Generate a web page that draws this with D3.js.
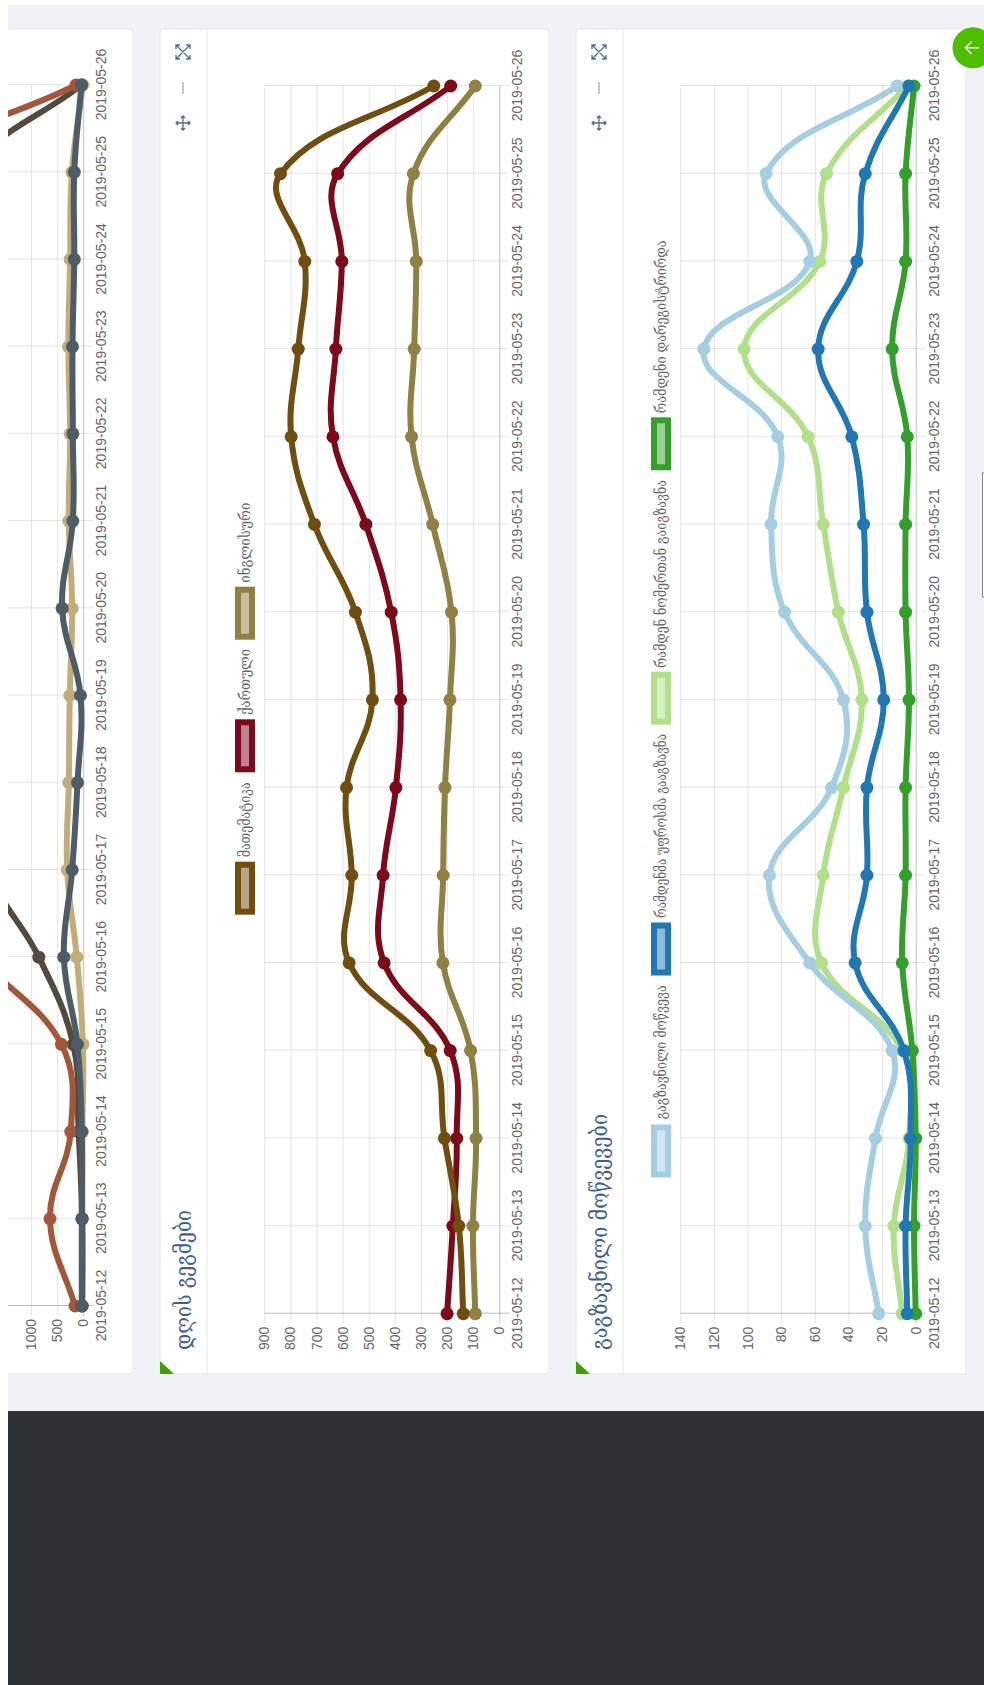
<!DOCTYPE html>
<html>
<head>
<meta charset="utf-8">
<style>
  html, body { margin: 0; padding: 0; background: #fff; overflow: hidden; }
  svg { display: block; }
  .tick text { font-family: "Liberation Sans", Arial, sans-serif; font-size: 14px; }
  .legend-label { font-family: "DejaVu Serif", serif; font-size: 14px; fill: #666; }
  .panel-title { font-family: "DejaVu Serif", serif; font-size: 23px; fill: #3f5d8f; }
</style>
<script src="https://cdnjs.cloudflare.com/ajax/libs/d3/7.8.5/d3.min.js"></script>
</head>
<body>
<div id="chart"></div>
<script>
var dates = ['2019-05-12', '2019-05-13', '2019-05-14', '2019-05-15', '2019-05-16', '2019-05-17', '2019-05-18', '2019-05-19',
  '2019-05-20', '2019-05-21', '2019-05-22', '2019-05-23', '2019-05-24', '2019-05-25', '2019-05-26']

// left panel, cut off by the page edge: the middle of the first two series is out of frame
var rustValues = [157, 636, 239, 417, 1950, 3000, 2900, 2600, 2700, 3300, 3500, 3400, 3300, 3400, 138]
var darkValues = [20, 20, 88, 191, 850, 1800, 1900, 1850, 1900, 1950, 2100, 2050, 2000, 2150, 34]
var tanValues = [15, 15, 15, 5, 123, 307, 276, 257, 211, 276, 250, 283, 250, 216, 5]
var slateValues = [27, 27, 27, 109, 371, 211, 109, 52, 403, 199, 198, 205, 171, 171, 34]
var leftTicks = [0, 500, 1000]
var leftMax = 4500

// day plans
var mathValues = [138, 155, 210, 263, 575, 565, 585, 486, 551, 708, 797, 770, 745, 838, 251]
var georgianValues = [200, 178, 163, 188, 441, 445, 396, 378, 414, 511, 637, 626, 603, 619, 186]
var englishValues = [92, 101, 89, 110, 216, 215, 208, 189, 183, 255, 336, 326, 318, 329, 92]
var planTicks = [0, 100, 200, 300, 400, 500, 600, 700, 800, 900]
var planMax = 900
var planLabels = ['მათემატიკა', 'ქართული', 'ინგლისური']

// sent invitations
var sentValues = [22, 30, 24, 14, 63, 87, 50, 43, 78, 86, 82, 126, 63, 89, 11]
var headValues = [5, 6, 3, 7, 36, 29, 29, 19, 29, 31, 38, 58, 35, 30, 4]
var numberValues = [8, 13, 4, 8, 56, 55, 43, 32, 46, 55, 64, 102, 57, 53, 5]
var registeredValues = [0, 1, 0, 2, 8, 6, 6, 4, 6, 6, 5, 14, 6, 6, 1]
var inviteTicks = [0, 20, 40, 60, 80, 100, 120, 140]
var inviteMax = 140
var inviteLabels = ['გაგზავნილი მოწვევა', 'რამდენმა უფროსმა გააგზავნა', 'რამდენ ნომერთან გაიგზავნა', 'რამდენი დარეგისტრირდა']

var width = 984
var height = 1685

var svg = d3.select('#chart').append('svg')
  .attr('width', width)
  .attr('height', height)

// Chart.js style bezier (tension .4), chord lengths weight the control points
function splineCurve(context) {
  var pts
  return {
    areaStart: function() {},
    areaEnd: function() {},
    lineStart: function() { pts = [] },
    point: function(x, y) { pts.push([+x, +y]) },
    lineEnd: function() {
      var t = 0.4
      var ctrl = pts.map(function(p, i) {
        var prev = pts[i - 1] || p
        var next = pts[i + 1] || p
        var d01 = Math.hypot(p[0] - prev[0], p[1] - prev[1])
        var d12 = Math.hypot(next[0] - p[0], next[1] - p[1])
        var fa = t * d01 / (d01 + d12)
        var fb = t * d12 / (d01 + d12)
        return {
          inX: p[0] - fa * (next[0] - prev[0]),
          inY: p[1] - fa * (next[1] - prev[1]),
          outX: p[0] + fb * (next[0] - prev[0]),
          outY: p[1] + fb * (next[1] - prev[1])
        }
      })
      context.moveTo(pts[0][0], pts[0][1])
      for (var i = 1; i < pts.length; i++) {
        context.bezierCurveTo(ctrl[i - 1].outX, ctrl[i - 1].outY, ctrl[i].inX, ctrl[i].inY, pts[i][0], pts[i][1])
      }
    }
  }
}

// page background
svg.append('rect').attr('width', width).attr('height', height).attr('fill', '#f0f2f7')
svg.append('rect').attr('y', 1411).attr('width', width).attr('height', height - 1411).attr('fill', '#2d3135')

function drawPanel(x, w) {
  svg.append('rect')
    .attr('x', x).attr('y', 29)
    .attr('width', w).attr('height', 1345)
    .attr('rx', 3)
    .attr('fill', '#fff')
    .attr('stroke', '#e4e7ee')
}

function drawHeader(x, sep, title, titleLength) {
  svg.append('line')
    .attr('x1', sep).attr('x2', sep)
    .attr('y1', 29).attr('y2', 1374)
    .attr('stroke', '#e6e8ee')

  svg.append('path')
    .attr('d', d3.line()([[x, 1361], [x, 1374], [x + 14, 1374]]) + 'Z')
    .attr('fill', '#3ea000')

  var cx = x + 23
  svg.append('text')
    .attr('class', 'panel-title')
    .attr('transform', `translate(${cx + 8},1350) rotate(-90)`)
    .attr('textLength', titleLength)
    .attr('lengthAdjust', 'spacingAndGlyphs')
    .text(title)

  var icons = svg.append('g')
    .attr('fill', 'none')
    .attr('stroke', '#4f6b95')
    .attr('stroke-width', 1.3)

  // expand
  icons.append('path').attr('d',
    `M${cx - 7},45 L${cx + 7},59 M${cx + 7},45 L${cx - 7},59
     M${cx - 7},49 V45 H${cx - 3} M${cx + 3},45 H${cx + 7} V49
     M${cx - 7},55 V59 H${cx - 3} M${cx + 3},59 H${cx + 7} V55`)
  // minus
  icons.append('path').attr('d', `M${cx},82 V94`).attr('stroke', '#9aa9c0')
  // move
  icons.append('path').attr('d',
    `M${cx - 7},123 H${cx + 7} M${cx},116 V130
     M${cx - 5},121 L${cx - 7},123 L${cx - 5},125 M${cx + 5},121 L${cx + 7},123 L${cx + 5},125
     M${cx - 2},118 L${cx},116 L${cx + 2},118 M${cx - 2},128 L${cx},130 L${cx + 2},128`)
}

function drawChart(opts) {
  var h = opts.zeroX - opts.topX
  var w = opts.firstY - opts.lastY

  var x = d3.scalePoint().domain(dates).range([0, w])
  var y = d3.scaleLinear().domain([0, opts.max]).range([h, 0])

  // rotated page: chart right is page up
  var g = svg.append('g')
    .attr('transform', `translate(${opts.topX},${opts.firstY}) rotate(-90)`)

  var xAxis = g.append('g')
    .attr('transform', `translate(0,${h})`)
    .style('color', '#666')
    .call(d3.axisBottom(x).tickSizeInner(-h).tickSizeOuter(0).tickPadding(13))
  xAxis.select('.domain').remove()
  xAxis.selectAll('line')
    .attr('y1', 10)
    .attr('stroke', (d, i) => i === 0 ? 'rgba(0,0,0,0.25)' : 'rgba(0,0,0,0.1)')

  var yAxis = g.append('g')
    .style('color', '#666')
    .call(d3.axisLeft(y).tickValues(opts.ticks).tickFormat(d3.format('d')).tickSizeInner(-w).tickSizeOuter(0).tickPadding(13))
  yAxis.select('.domain').remove()
  yAxis.selectAll('line')
    .attr('x1', -10)
    .attr('stroke', d => d === 0 ? 'rgba(0,0,0,0.25)' : 'rgba(0,0,0,0.1)')

  var line = d3.line()
    .x((d, i) => x(dates[i]))
    .y(d => y(d))
    .curve(splineCurve)

  opts.series.forEach(function(s) {
    g.append('path')
      .attr('d', line(s.values))
      .attr('fill', 'none')
      .attr('stroke', s.color)
      .attr('stroke-width', 6)

    g.selectAll(null)
      .data(s.values)
      .enter()
      .append('circle')
      .attr('cx', (d, i) => x(dates[i]))
      .attr('cy', d => y(d))
      .attr('r', 6.5)
      .attr('fill', s.color)
  })
}

function drawLegend(boxX, labels, colors, boxTops, textTops, textLengths) {
  labels.forEach(function(label, i) {
    svg.append('rect')
      .attr('x', boxX + 3).attr('y', boxTops[i] + 3)
      .attr('width', 14).attr('height', 47)
      .attr('fill', colors[i])
      .attr('fill-opacity', 0.5)
      .attr('stroke', colors[i])
      .attr('stroke-width', 6)

    svg.append('text')
      .attr('class', 'legend-label')
      .attr('transform', `translate(${boxX + 15},${textTops[i]}) rotate(-90)`)
      .attr('textLength', textLengths[i])
      .attr('lengthAdjust', 'spacingAndGlyphs')
      .text(label)
  })
}

drawPanel(-256, 389)
drawPanel(160, 389)
drawPanel(576, 390)

drawChart({
  zeroX: 83.2, topX: -151.8, firstY: 1306, lastY: 85,
  ticks: leftTicks, max: leftMax,
  series: [
    { values: tanValues, color: '#c2ad7a' },
    { values: darkValues, color: '#524a3e' },
    { values: rustValues, color: '#a2573b' },
    { values: slateValues, color: '#4d5c66' }
  ]
})

drawHeader(160, 207, 'დღის გეგმები', 140)
drawChart({
  zeroX: 499.3, topX: 264.3, firstY: 1313.7, lastY: 86,
  ticks: planTicks, max: planMax,
  series: [
    { values: englishValues, color: '#8f8044' },
    { values: georgianValues, color: '#7d0a1a' },
    { values: mathValues, color: '#6f4e0f' }
  ]
})
drawLegend(235, planLabels, ['#6f4e0f', '#7d0a1a', '#8f8044'],
  [861.7, 719.3, 586.7], [857.3, 715, 582.7], [75, 66, 80])

drawHeader(576, 623, 'გაგზავნილი მოწვევები', 236)
drawChart({
  zeroX: 915.7, topX: 680.3, firstY: 1313.7, lastY: 86,
  ticks: inviteTicks, max: inviteMax,
  series: [
    { values: numberValues, color: '#b2df8a' },
    { values: registeredValues, color: '#33a02c' },
    { values: sentValues, color: '#a6cee3' },
    { values: headValues, color: '#1f78b4' }
  ]
})
drawLegend(651, inviteLabels, ['#a6cee3', '#1f78b4', '#b2df8a', '#33a02c'],
  [1124.5, 922.5, 671.7, 417.3], [1119.3, 918, 668, 413.3], [134, 184, 188, 173])

// edge of a box poking in from the right
svg.append('rect')
  .attr('x', 982.5).attr('y', 473)
  .attr('width', 10).attr('height', 124)
  .attr('fill', '#fff')
  .attr('stroke', '#888')

// floating back button
svg.append('circle')
  .attr('cx', 973).attr('cy', 47.7).attr('r', 20.5)
  .attr('fill', '#4cbf00')
svg.append('path')
  .attr('d', 'M979,47.7 H965.5 M971.5,41.7 L965.5,47.7 L971.5,53.7')
  .attr('fill', 'none')
  .attr('stroke', '#fff')
  .attr('stroke-width', 1.5)

// white strips where the screenshot stops
svg.append('rect').attr('width', 8).attr('height', height).attr('fill', '#fff')
svg.append('rect').attr('width', width).attr('height', 5).attr('fill', '#fff')
</script>
</body>
</html>
